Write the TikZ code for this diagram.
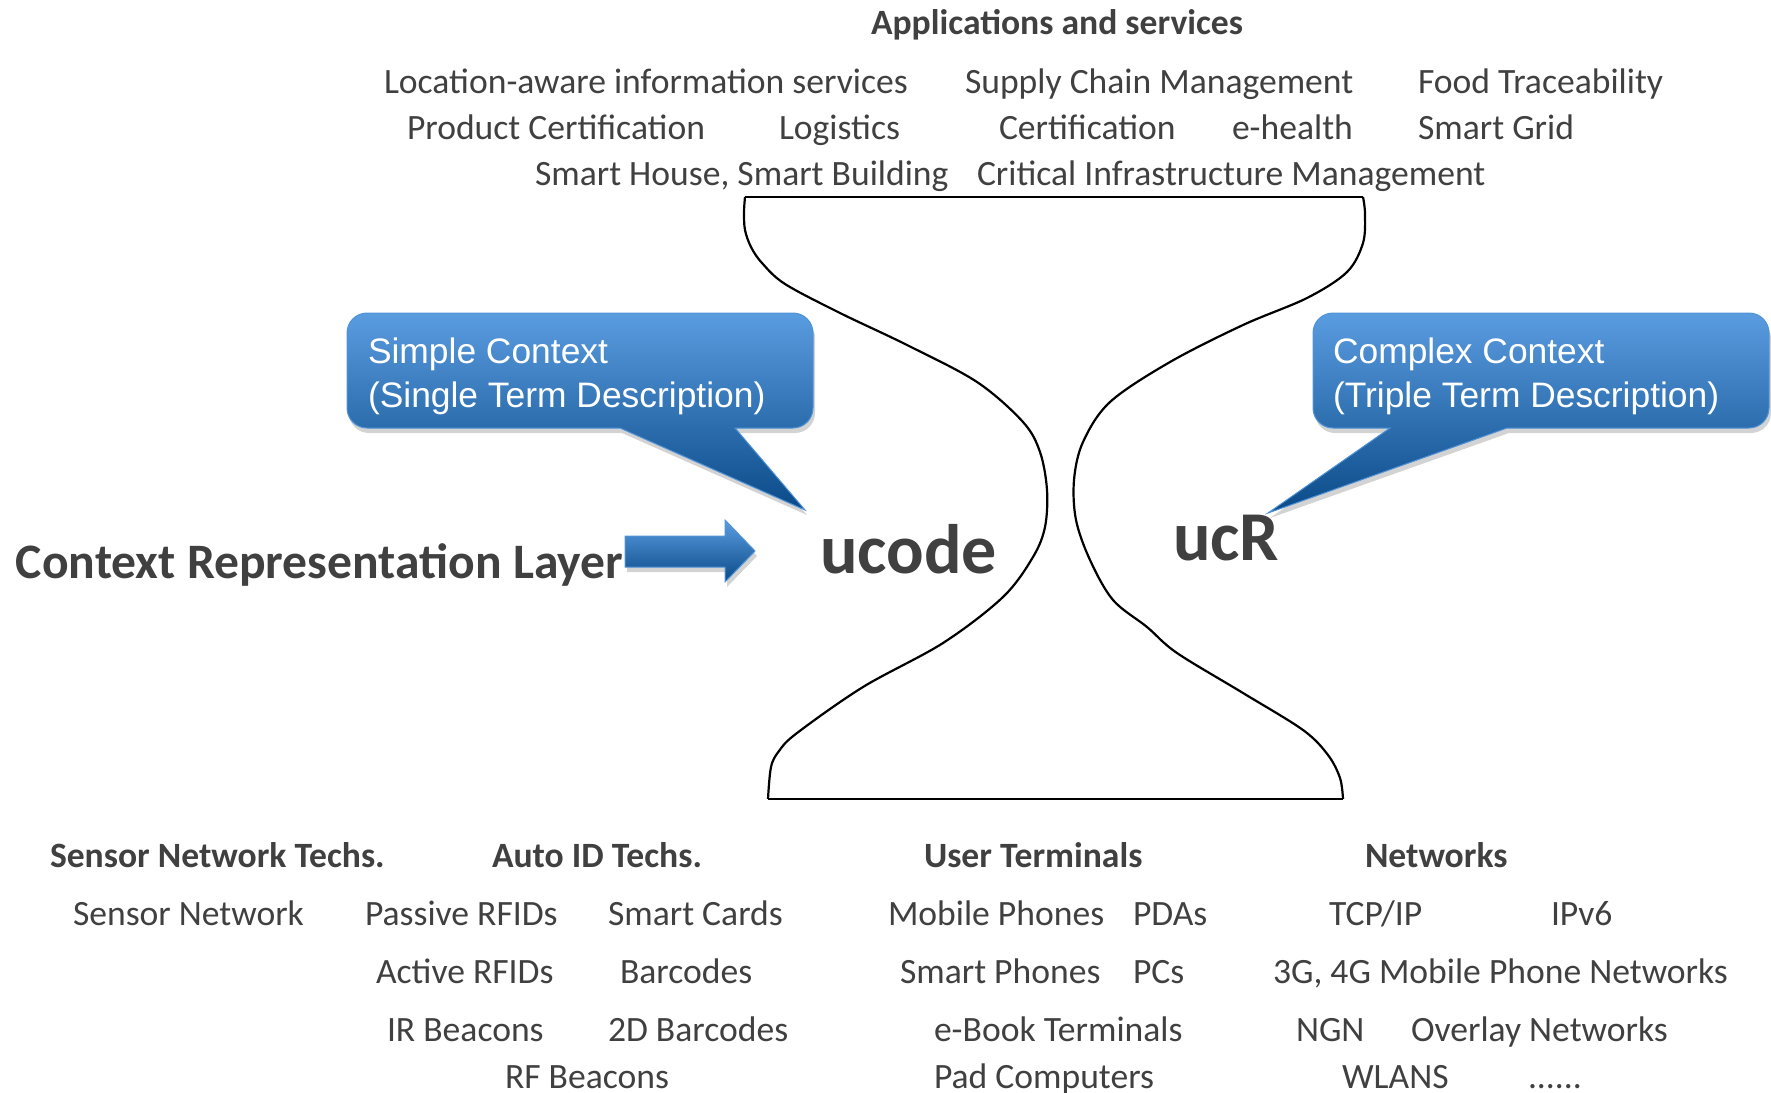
\documentclass[tikz,border=0pt]{standalone}
\usepackage{fontspec}
\setmainfont{Carlito}
\newfontfamily\arialfont{Liberation Sans}
\usetikzlibrary{shadows}
\definecolor{txtgray}{HTML}{404040}
\definecolor{blueTop}{HTML}{5A9CE0}
\definecolor{blueBot}{HTML}{0A4A88}
\definecolor{blueEdge}{HTML}{4F92D6}
\begin{document}
\begin{tikzpicture}[x=0.5pt, y=-0.5pt,
  every node/.style={text=txtgray, inner sep=0pt, outer sep=0pt},
  item/.style={anchor=base west, font=\fontsize{17.8}{21}\selectfont},
  head/.style={anchor=base west, font=\fontsize{17.8}{21}\selectfont\bfseries},
  big/.style={anchor=base west, font=\fontsize{35}{40}\selectfont\bfseries},
  bubble/.style={top color=blueTop, bottom color=blueBot, draw=blueEdge, line width=0.5pt,
    drop shadow={opacity=0.35, shadow xshift=1pt, shadow yshift=-2.5pt}},
  bubbletext/.style={anchor=base west, text=white, align=left,
    font=\arialfont\fontsize{17.7}{22}\selectfont},
  glass/.style={draw=black, line width=1.1pt}]
  \useasboundingbox (0,0) rectangle (1771,1092);
  % Applications (oben)
  \node[head] (apps) at (871,34) {Applications and services};
  \node[item] (loc) at (384,93) {Location-aware information services};
  \node[item] (scm) at (965,93) {Supply Chain Management};
  \node[item] (food) at (1418,93) {Food Traceability};
  \node[item] (prodcert) at (407,139) {Product Certification};
  \node[item] (logi) at (779,139) {Logistics};
  \node[item] (cert) at (999,139) {Certification};
  \node[item] (ehealth) at (1232,139) {e-health};
  \node[item] (grid) at (1418,139) {Smart Grid};
  \node[item] (house) at (535,185) {Smart House, Smart Building};
  \node[item] (cim) at (977,185) {Critical Infrastructure Management};
  % Sanduhr
  \draw[glass] (745,197) -- (1363,197);
  \draw[glass] (768,799) -- (1343,799);
  \draw[glass] plot[smooth, tension=0.55] coordinates {(745,197) (744,212) (745,230) (751,247)
    (762,263) (785,284) (840,313) (907,345) (977,382) (1023,422) (1040,452) (1047,490)
    (1045,527) (1033,557) (1003,597) (943,643) (863,687) (797,733) (779,751) (771,767) (768,799)};
  \draw[glass] plot[smooth, tension=0.55] coordinates {(1363,197) (1365,214) (1363,243) (1347,272)
    (1307,298) (1243,325) (1170,362) (1110,402) (1083,442) (1074,480) (1076,520) (1090,560)
    (1113,600) (1147,627) (1177,653) (1243,693) (1303,730) (1328,755) (1340,778) (1343,799)};
  % Sprechblasen
  \path[bubble] (347,370) [rounded corners=10pt] -- (347,313) -- (813,313) -- (813,428)
    [sharp corners] -- (735,428) -- (805,510) -- (620,428) [rounded corners=10pt]
    -- (347,428) -- cycle;
  \node[bubbletext] (simple) at (368,407) {Simple Context\\(Single Term Description)};
  \path[bubble] (1313,370) [rounded corners=10pt] -- (1313,313) -- (1769,313) -- (1769,428)
    [sharp corners] -- (1507,428) -- (1268,513) -- (1390,428) [rounded corners=10pt]
    -- (1313,428) -- cycle;
  \node[bubbletext] (complex) at (1333,407) {Complex Context\\(Triple Term Description)};
  % Layer + Pfeil
  \node[anchor=base west, font=\fontsize{24.8}{28}\selectfont\bfseries] (layer) at (16,578)
    {Context Representation Layer};
  \path[bubble] (625,536) -- (725,536) -- (725,520) -- (755,551) -- (725,582) -- (725,567)
    -- (625,567) -- cycle;
  \node[big] (ucode) at (820,573) {ucode};
  \node[big] (ucr) at (1173,560) {ucR};
  % Technologien (unten)
  \node[head] (hsens) at (50,867) {Sensor Network Techs.};
  \node[head] (hauto) at (492,867) {Auto ID Techs.};
  \node[head] (huser) at (924,867) {User Terminals};
  \node[head] (hnet) at (1365,867) {Networks};
  \node[item] (sensnet) at (73,925) {Sensor Network};
  \node[item] (passive) at (365,925) {Passive RFIDs};
  \node[item] (cards) at (608,925) {Smart Cards};
  \node[item] (mobile) at (888,925) {Mobile Phones};
  \node[item] (pdas) at (1133,925) {PDAs};
  \node[item] (tcpip) at (1329,925) {TCP/IP};
  \node[item] (ipv6) at (1551,925) {IPv6};
  \node[item] (active) at (376,983) {Active RFIDs};
  \node[item] (barcodes) at (620,983) {Barcodes};
  \node[item] (smartph) at (900,983) {Smart Phones};
  \node[item] (pcs) at (1133,983) {PCs};
  \node[item] (mobnet) at (1273,983) {3G, 4G Mobile Phone Networks};
  \node[item] (ir) at (387,1041) {IR Beacons};
  \node[item] (twod) at (608,1041) {2D Barcodes};
  \node[item] (ebook) at (934,1041) {e-Book Terminals};
  \node[item] (ngn) at (1296,1041) {NGN};
  \node[item] (overlay) at (1411,1041) {Overlay Networks};
  \node[item] (rf) at (505,1088) {RF Beacons};
  \node[item] (pad) at (934,1088) {Pad Computers};
  \node[item] (wlans) at (1342,1088) {WLANS};
  \node[item] (dots) at (1528,1088) {......};
\end{tikzpicture}
\end{document}
